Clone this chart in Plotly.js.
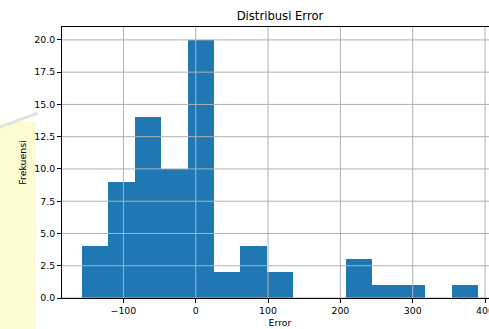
<!DOCTYPE html>
<html>
<head>
<meta charset="utf-8">
<script src="https://cdn.plot.ly/plotly-3.0.1.min.js"></script>
<style>
html,body{margin:0;padding:0;overflow:hidden;background:#fff;width:489px;height:329px;}
#chart{width:530px;height:329px;}
</style>
</head>
<body>
<div id="chart"></div>
<script>
// Histogram of errors: 15 equal bins
const binStart = -157.5;
const binWidth = 36.53;
const counts = [4, 9, 14, 10, 20, 2, 4, 2, 0, 0, 3, 1, 1, 0, 1];
const xTicks = [-100, 0, 100, 200, 300, 400];
const yTicks = [0, 2.5, 5, 7.5, 10, 12.5, 15, 17.5, 20];

const centers = counts.map((_, i) => binStart + binWidth * (i + 0.5));

const gridColor = '#b0b0b0';
const shapes = [];
xTicks.forEach(v => shapes.push({type:'line', xref:'x', yref:'paper', x0:v, x1:v, y0:0, y1:1,
  line:{color:gridColor, width:1}, layer:'above'}));
yTicks.forEach(v => shapes.push({type:'line', xref:'paper', yref:'y', x0:0, x1:1, y0:v, y1:v,
  line:{color:gridColor, width:1}, layer:'above'}));
// faint watermark tint at left edge (outside the chart)
const px = p => (p - 62) / 436, py = p => (298 - p) / 271;
shapes.push({type:'rect', xref:'paper', yref:'paper', x0:px(0), x1:px(36), y0:py(329), y1:py(122),
  fillcolor:'#fdfbd2', line:{width:0}, layer:'below'});
shapes.push({type:'line', xref:'paper', yref:'paper', x0:px(0), x1:px(38), y0:py(127), y1:py(113),
  line:{color:'#e4e4dc', width:3}, layer:'below'});

const font = {family:'DejaVu Sans, sans-serif', color:'#000', size:9.4};

Plotly.newPlot('chart', [{
  type:'bar',
  x: centers,
  y: counts,
  width: counts.map(() => binWidth),
  marker:{color:'#1f77b4', line:{width:0}},
  hoverinfo:'skip'
}], {
  width:530, height:329,
  margin:{l:62, r:32, t:27, b:31},
  paper_bgcolor:'rgba(0,0,0,0)',
  plot_bgcolor:'#fff',
  font: font,
  showlegend:false,
  bargap:0,
  title:{text:'Distribusi Error', font:{family:font.family, size:11.6, color:'#000'},
    x:0.5, xref:'paper', xanchor:'center', y:1-16/329, yref:'container', yanchor:'middle'},
  xaxis:{
    range:[-184.9, 417.9], tickvals:xTicks, ticktext:xTicks.map(v => v < 0 ? '\u2212' + Math.abs(v) : String(v)),
    showgrid:false, zeroline:false, showline:true, linecolor:'#000', linewidth:1, mirror:true,
    ticks:'outside', ticklen:4, tickcolor:'#000', tickwidth:1, tickfont:font,
    title:{text:'Error', font:font, standoff:4}
  },
  yaxis:{
    range:[0, 21], tickvals:yTicks, ticktext:yTicks.map(v => v.toFixed(1)),
    showgrid:false, zeroline:false, showline:true, linecolor:'#000', linewidth:1, mirror:true,
    ticks:'outside', ticklen:4, tickcolor:'#000', tickwidth:1, tickfont:font,
    title:{text:'Frekuensi', font:font, standoff:5}
  },
  shapes: shapes
}, {staticPlot:true, displayModeBar:false});
</script>
</body>
</html>
